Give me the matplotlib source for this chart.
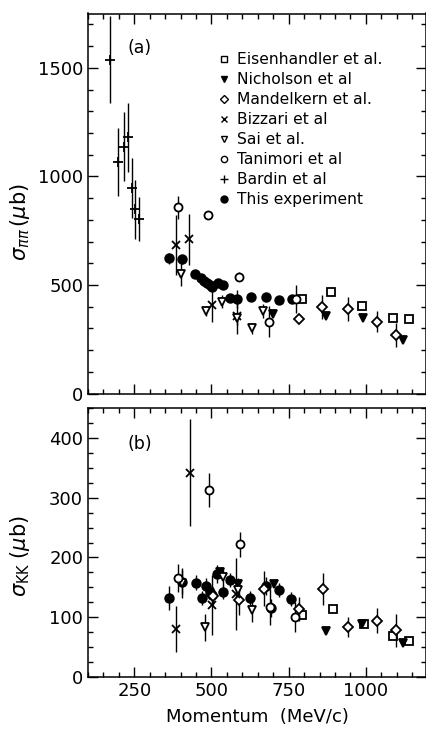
import matplotlib
matplotlib.use("Agg")
import matplotlib.pyplot as plt
from matplotlib.lines import Line2D
from matplotlib.ticker import MultipleLocator

plt.rcParams['font.family'] = ['DejaVu Sans']
plt.rcParams['mathtext.fontset'] = 'dejavusans'

# ---------------- Panel (a): sigma_pipi ----------------
a_this_x = [362, 405, 447, 466, 477, 487, 495, 501, 522, 538, 560, 584, 628, 677, 720, 760]
a_this_y = [623, 618, 551, 531, 520, 511, 500, 492, 508, 500, 441, 435, 446, 443, 430, 435]
a_this_e = [25, 20, 10, 10, 10, 10, 10, 20, 10, 10, 10, 40, 10, 10, 10, 15]

a_eis_x = [792, 887, 989, 1089, 1139]
a_eis_y = [435, 466, 403, 348, 343]

a_nic_x = [698, 871, 990, 1121]
a_nic_y = [365, 357, 348, 247]

a_man_x = [782, 859, 941, 1035, 1098]
a_man_y = [345, 397, 388, 331, 269]
a_man_e = [20, 55, 55, 48, 55]

a_biz_x = [384, 428, 503, 582]
a_biz_y = [686, 711, 408, 355]
a_biz_e = [138, 117, 80, 80]

a_sai_x = [401, 481, 535, 582, 630, 668]
a_sai_y = [551, 380, 423, 346, 300, 380]
a_sai_e = [55, 25, 30, 30, 25, 30]

a_tan_x = [390, 490, 590, 687, 773]
a_tan_y = [858, 822, 538, 331, 435]
a_tan_e = [53, 20, 20, 70, 65]

a_bar_x = [170, 197, 216, 230, 242, 251, 264]
a_bar_y = [1537, 1065, 1137, 1179, 946, 849, 804]
a_bar_e = [200, 157, 158, 158, 140, 136, 100]

# ---------------- Panel (b): sigma_KK ----------------
b_this_x = [362, 405, 449, 470, 483, 495, 503, 518, 538, 559, 626, 676, 692, 719, 757]
b_this_y = [132, 159, 158, 132, 153, 142, 137, 172, 142, 162, 132, 153, 115, 146, 130]
b_this_e = [20, 20, 12, 12, 12, 12, 15, 15, 12, 12, 12, 15, 15, 12, 12]

b_eis_x = [792, 893, 995, 1089, 1141]
b_eis_y = [104, 114, 88, 69, 60]

b_nic_x = [527, 587, 701, 871, 987, 1120]
b_nic_y = [175, 156, 156, 77, 88, 57]

b_man_x = [506, 588, 670, 782, 862, 943, 1037, 1098]
b_man_y = [135, 128, 148, 113, 147, 84, 94, 78]
b_man_e = [15, 25, 30, 20, 27, 17, 21, 28]

b_biz_x = [386, 431, 502, 580]
b_biz_y = [80, 342, 120, 139]
b_biz_e = [39, 90, 50, 60]

b_sai_x = [403, 480, 538, 585, 631]
b_sai_y = [157, 83, 167, 145, 112]
b_sai_e = [25, 23, 15, 20, 20]

b_tan_x = [390, 492, 591, 690, 771]
b_tan_y = [166, 313, 222, 117, 100]
b_tan_e = [23, 29, 21, 30, 25]

legend_labels = ["Eisenhandler et al.", "Nicholson et al", "Mandelkern et al.",
                 "Bizzari et al", "Sai et al.", "Tanimori et al", "Bardin et al",
                 "This experiment"]

W, H = 426, 731
fig = plt.figure(figsize=(W / 100, H / 100), dpi=100)
axA = fig.add_axes([88 / W, 1 - 393.5 / H, 338 / W, (393.5 - 13.5) / H])
axB = fig.add_axes([88 / W, 1 - 677 / H, 338 / W, (677 - 408) / H])

ms_f = 6.2
ms_o = 5.8
ebkw = dict(ecolor='black', elinewidth=1.0, capsize=0, linestyle='none')

def draw(ax, x, y, e, marker, filled, ms):
    mfc = 'black' if filled else 'white'
    if e is None:
        ax.plot(x, y, linestyle='none', marker=marker, ms=ms, mfc=mfc,
                mec='black', mew=1.3, zorder=3)
    else:
        ax.errorbar(x, y, yerr=e, fmt=marker, ms=ms, mfc=mfc, mec='black',
                    mew=1.3, zorder=3, **ebkw)

# panel a
draw(axA, a_this_x, a_this_y, a_this_e, 'o', True, ms_f)
draw(axA, a_eis_x, a_eis_y, None, 's', False, ms_o)
draw(axA, a_nic_x, a_nic_y, None, 'v', True, ms_o + 0.5)
draw(axA, a_man_x, a_man_y, a_man_e, 'D', False, ms_o - 0.5)
draw(axA, a_biz_x, a_biz_y, a_biz_e, 'x', True, ms_o)
draw(axA, a_sai_x, a_sai_y, a_sai_e, 'v', False, ms_o + 0.5)
draw(axA, a_tan_x, a_tan_y, a_tan_e, 'o', False, ms_o)
draw(axA, a_bar_x, a_bar_y, a_bar_e, '+', True, 7)

# panel b
draw(axB, b_this_x, b_this_y, b_this_e, 'o', True, ms_f)
draw(axB, b_eis_x, b_eis_y, None, 's', False, ms_o)
draw(axB, b_nic_x, b_nic_y, None, 'v', True, ms_o + 0.5)
draw(axB, b_man_x, b_man_y, b_man_e, 'D', False, ms_o - 0.5)
draw(axB, b_biz_x, b_biz_y, b_biz_e, 'x', True, ms_o)
draw(axB, b_sai_x, b_sai_y, b_sai_e, 'v', False, ms_o + 0.5)
draw(axB, b_tan_x, b_tan_y, b_tan_e, 'o', False, ms_o)

for ax in (axA, axB):
    ax.set_xlim(100, 1195)
    ax.xaxis.set_major_locator(MultipleLocator(250))
    ax.xaxis.set_minor_locator(MultipleLocator(50))
    ax.tick_params(which='both', direction='in', top=True, right=True,
                   labelsize=13, width=1.0)
    ax.tick_params(which='major', length=7)
    ax.tick_params(which='minor', length=3.5)
    for s in ax.spines.values():
        s.set_linewidth(1.1)

axA.set_ylim(0, 1750)
axA.yaxis.set_major_locator(MultipleLocator(500))
axA.yaxis.set_minor_locator(MultipleLocator(100))
axA.tick_params(labelbottom=False)

axB.set_ylim(0, 450)
axB.yaxis.set_major_locator(MultipleLocator(100))
axB.yaxis.set_minor_locator(MultipleLocator(25))
axB.set_xticks([250, 500, 750, 1000])

axA.set_ylabel(r'$\sigma_{\pi\pi}\,(\mu\mathrm{b})$', fontsize=15)
axA.yaxis.set_label_coords(-0.165, 0.45)
axB.set_ylabel(r'$\sigma_{\mathrm{KK}}\;(\mu\mathrm{b})$', fontsize=15)
axB.yaxis.set_label_coords(-0.165, 0.45)
axB.set_xlabel('Momentum  (MeV/c)', fontsize=13, labelpad=6)

axA.text(228, 1590, '(a)', fontsize=12.5, ha='left', va='center')
axB.text(228, 390, '(b)', fontsize=12.5, ha='left', va='center')

handles = [
    Line2D([], [], ls='none', marker='s', ms=4.5, mfc='white', mec='black', mew=1),
    Line2D([], [], ls='none', marker='v', ms=5, mfc='black', mec='black', mew=1),
    Line2D([], [], ls='none', marker='D', ms=4, mfc='white', mec='black', mew=1),
    Line2D([], [], ls='none', marker='x', ms=4.5, mfc='black', mec='black', mew=1),
    Line2D([], [], ls='none', marker='v', ms=5, mfc='white', mec='black', mew=1),
    Line2D([], [], ls='none', marker='o', ms=4.5, mfc='white', mec='black', mew=1),
    Line2D([], [], ls='none', marker='+', ms=6, mfc='black', mec='black', mew=1),
    Line2D([], [], ls='none', marker='o', ms=5, mfc='black', mec='black', mew=1),
]
axA.legend(handles, legend_labels, loc='upper left', bbox_to_anchor=(0.385, 0.898),
           frameon=False, fontsize=11.2, handlelength=0.8, handletextpad=0.4,
           labelspacing=0.32, borderpad=0, borderaxespad=0)

fig.savefig('out.png', dpi=100)
